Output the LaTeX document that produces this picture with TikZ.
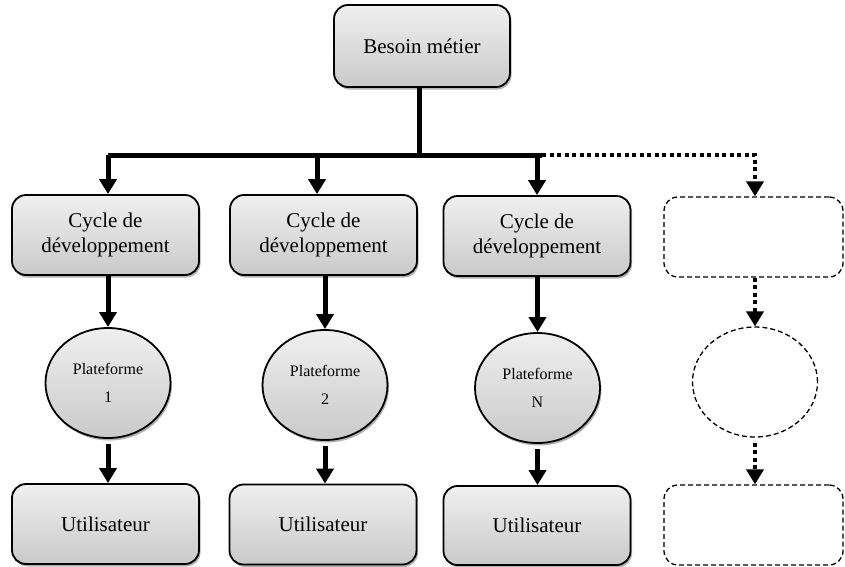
\documentclass[tikz,border=0pt]{standalone}
\usepackage{fontspec}
\setmainfont{Liberation Serif}
\usetikzlibrary{shapes.geometric,arrows.meta,shadows}
\begin{document}
\begin{tikzpicture}[x=1pt,y=-1pt,
  shaded/.style={top color=gray!12,bottom color=gray!42,draw=black,line width=1.8pt,
    drop shadow={shadow xshift=1.5pt,shadow yshift=-2.5pt,opacity=0.3,fill=black}},
  roundbox/.style={shaded,rounded corners=14pt,inner sep=0pt,align=center,
    minimum width=187pt,minimum height=80pt,font=\fontsize{21}{25}\selectfont},
  platform/.style={shaded,ellipse,inner sep=0pt,minimum width=125pt,minimum height=110pt,
    align=center,font=\fontsize{16}{28}\selectfont},
  ghostbox/.style={draw=black,line width=1.3pt,dash pattern=on 5pt off 3pt,
    rounded corners=14pt,minimum width=179pt,minimum height=80pt,inner sep=0pt},
  ghostellipse/.style={draw=black,line width=1.3pt,dash pattern=on 5pt off 3pt,
    ellipse,minimum width=125pt,minimum height=110pt,inner sep=0pt},
  conn/.style={line width=5pt},
  arr/.style={line width=5pt,-{Triangle[width=17pt,length=15pt]}},
  dotconn/.style={line width=4.5pt,dash pattern=on 4pt off 3.5pt},
  dotarr/.style={dotconn,-{Triangle[width=17pt,length=15pt]}}]
\useasboundingbox (0,0) rectangle (845,566);

% top node
\node[roundbox,minimum width=176pt,minimum height=82pt] (besoin) at (422,46) {Besoin métier};

% development cycles
\node[roundbox] (cycle1) at (105.5,235) {Cycle de\\développement};
\node[roundbox] (cycle2) at (323.5,235) {Cycle de\\développement};
\node[roundbox] (cycle3) at (537,236) {Cycle de\\développement};
\node[ghostbox] (cycle4) at (753.5,237) {};

% platforms
\node[platform] (plat1) at (108,383) {Plateforme\\1};
\node[platform] (plat2) at (325,385) {Plateforme\\2};
\node[platform] (plat3) at (537.5,388) {Plateforme\\N};
\node[ghostellipse] (plat4) at (755,382) {};

% users
\node[roundbox] (user1) at (105.5,524) {Utilisateur};
\node[roundbox] (user2) at (323,524.5) {Utilisateur};
\node[roundbox,minimum height=79pt] (user3) at (537,525.5) {Utilisateur};
\node[ghostbox] (user4) at (753.5,525) {};

% distribution bus
\coordinate (bus) at (419,155);
\coordinate (j1) at (108,155);
\coordinate (j2) at (317,155);
\coordinate (j3) at (537,155);
\coordinate (jend) at (542,155);
\coordinate (j4) at (755,155);

\draw[conn] (besoin.south -| bus) -- (bus);
\draw[conn] (j1) -- (jend);
\draw[arr] (j1) -- (j1 |- cycle1.north);
\draw[arr] (j2) -- (j2 |- cycle2.north);
\draw[arr] (j3) -- (j3 |- cycle3.north);
\draw[dotarr] (jend) -- (j4) -- (j4 |- cycle4.north);

% cycles to platforms
\draw[arr] (plat1.north |- cycle1.south) -- (plat1.north);
\draw[arr] (plat2.north |- cycle2.south) -- (plat2.north);
\draw[arr] (plat3.north |- cycle3.south) -- (plat3.north);
\draw[dotarr] (plat4.north |- cycle4.south) -- (plat4.north);

% platforms to users
\draw[arr] ([yshift=-5pt]plat1.south) -- (plat1.south |- user1.north);
\draw[arr] ([yshift=-5pt]plat2.south) -- (plat2.south |- user2.north);
\draw[arr] ([yshift=-5pt]plat3.south) -- (plat3.south |- user3.north);
\draw[dotarr] ([yshift=-5pt]plat4.south) -- (plat4.south |- user4.north);
\end{tikzpicture}
\end{document}
